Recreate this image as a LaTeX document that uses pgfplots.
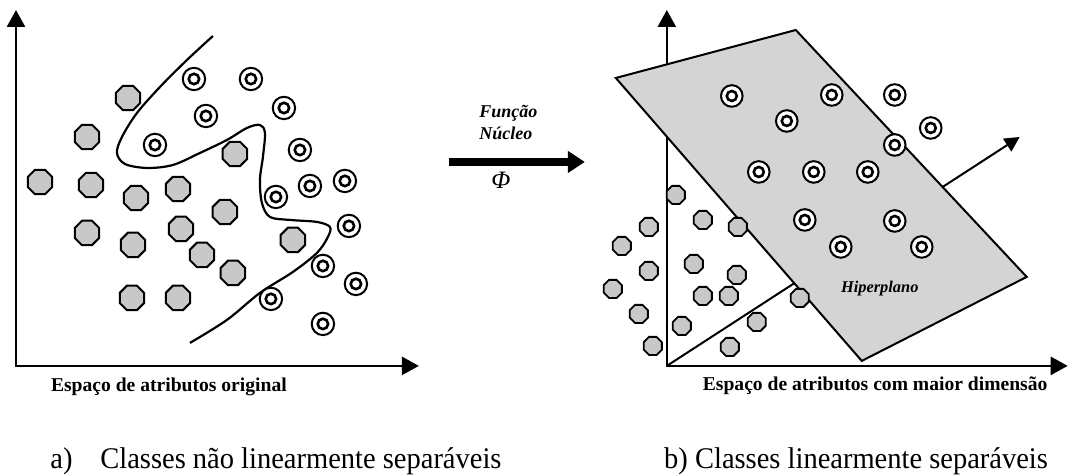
\documentclass[border=0pt]{standalone}
\usepackage{fontspec}
\setmainfont{Liberation Serif}
\usepackage{graphicx}
\usepackage{pgfplots}
\usepackage{pgfplotstable}
\pgfplotsset{compat=1.18}
\usetikzlibrary{arrows.meta}
\definecolor{octgray}{RGB}{200,200,200}
\definecolor{planegray}{RGB}{212,212,212}
\pgfdeclareplotmark{octagon}{%
 \pgfpathmoveto{\pgfpointpolar{22.5}{\pgfplotmarksize}}%
 \pgfpathlineto{\pgfpointpolar{67.5}{\pgfplotmarksize}}%
 \pgfpathlineto{\pgfpointpolar{112.5}{\pgfplotmarksize}}%
 \pgfpathlineto{\pgfpointpolar{157.5}{\pgfplotmarksize}}%
 \pgfpathlineto{\pgfpointpolar{202.5}{\pgfplotmarksize}}%
 \pgfpathlineto{\pgfpointpolar{247.5}{\pgfplotmarksize}}%
 \pgfpathlineto{\pgfpointpolar{292.5}{\pgfplotmarksize}}%
 \pgfpathlineto{\pgfpointpolar{337.5}{\pgfplotmarksize}}%
 \pgfpathclose
 \pgfusepathqfillstroke
}
% left panel: class A (gray octagons)
\pgfplotstableread{
x y
128 98
87 137
40 182
91 185
136 198
178 189
235 154
225 212
87 233
133 245
181 229
202 255
233 273
293 240
132 298
178 298
}\leftoct
% left panel: class B (double circles)
\pgfplotstableread{
x y
194 79
251 79
206 116
284 108
155 145
300 150
276 197
310 186
345 181
349 226
323 266
356 284
271 299
323 324
}\leftcirc
% separating curve
\pgfplotstableread{
x y
213 36
187 60
160 87
137 113
122 137
117 153
125 164
147 168
173 165
200 153
227 140
247 128
260 125
265 133
263 157
260 180
262 203
270 217
290 220
317 222
330 227
328 237
317 253
293 272
260 293
227 320
190 343
}\curve
% right panel: class A
\pgfplotstableread{
x y
676 195
649 227
703 220
738 227
622 246
649 271
694 264
737 275
613 289
703 296
729 296
800 298
639 314
682 326
757 322
653 346
730 347
}\rightoct
% right panel: class B
\pgfplotstableread{
x y
732 96
832 95
895 95
787 121
931 128
895 145
759 172
814 172
868 172
805 220
895 221
841 247
922 247
}\rightcirc
\begin{document}
\begin{tikzpicture}
\begin{axis}[width=534.5pt, height=238pt, scale only axis,
  xmin=0, xmax=1069, ymin=0, ymax=476, y dir=reverse,
  hide axis, clip=false]
\addplot[draw=none] coordinates {(0,0) (1069,476)};
% ---------- left panel ----------
\addplot[line width=1.3pt, {Triangle[length=8.5pt,width=9pt]}-{Triangle[length=8.5pt,width=9pt]}]
  coordinates {(16,10) (16,366) (419,366)};
\addplot[smooth, tension=0.55, line width=1.1pt] table {\curve};
\addplot[only marks, mark=octagon, mark size=6.6pt,
  mark options={fill=octgray, draw=black, line width=1pt}] table {\leftoct};
\addplot[only marks, mark=*, mark size=5.6pt,
  mark options={fill=white, draw=black, line width=1pt}] table {\leftcirc};
\addplot[only marks, mark=o, mark size=2.6pt,
  mark options={draw=black, line width=1.3pt}] table {\leftcirc};
\node[anchor=base west, font=\fontsize{9.8}{11}\selectfont\bfseries]
  at (axis cs:44,392) {Espaço de atributos original};
% ---------- central arrow ----------
\addplot[line width=4pt, -{Triangle[length=8.5pt,width=10.5pt]}]
  coordinates {(449,162) (585,162)};
\node[anchor=base west, inner sep=0pt, font=\fontsize{9}{10}\selectfont\bfseries\itshape]
  at (axis cs:479,118) {Função};
\node[anchor=base west, inner sep=0pt, font=\fontsize{9}{10}\selectfont\bfseries\itshape]
  at (axis cs:479,140) {Núcleo};
\node[anchor=center, inner sep=0pt, font=\fontsize{12.5}{14}\selectfont\itshape]
  at (axis cs:501,180) {Φ};
% ---------- right panel ----------
\addplot[line width=1.3pt, {Triangle[length=8.5pt,width=9pt]}-{Triangle[length=8.5pt,width=9pt]}]
  coordinates {(667,10) (667,366) (1068,366)};
\addplot[line width=1pt, -{Triangle[length=7.5pt,width=7.5pt]}]
  coordinates {(667,366) (1020,137)};
\addplot[only marks, mark=octagon, mark size=4.9pt,
  mark options={fill=octgray, draw=black, line width=0.9pt}] table {\rightoct};
\addplot[fill=planegray, draw=black, line width=1pt]
  coordinates {(616,78) (796,30) (1027,277) (862,361)} -- cycle;
\addplot[only marks, mark=*, mark size=5.4pt,
  mark options={fill=white, draw=black, line width=1pt}] table {\rightcirc};
\addplot[only marks, mark=o, mark size=2.5pt,
  mark options={draw=black, line width=1.3pt}] table {\rightcirc};
\node[anchor=base, font=\fontsize{8.2}{10}\selectfont\bfseries\itshape]
  at (axis cs:880,293) {Hiperplano};
\node[anchor=base west, font=\fontsize{9.8}{11}\selectfont\bfseries]
  at (axis cs:696,391) {Espaço de atributos com maior dimensão};
% ---------- captions ----------
\node[anchor=base west, font=\fontsize{15}{17}\selectfont, inner sep=0pt]
  at (axis cs:50,469) {\scalebox{0.95}[1]{a)}};
\node[anchor=base west, font=\fontsize{15}{17}\selectfont, inner sep=0pt]
  at (axis cs:100,469) {\scalebox{0.95}[1]{Classes não linearmente separáveis}};
\node[anchor=base west, font=\fontsize{15}{17}\selectfont, inner sep=0pt]
  at (axis cs:664,469) {\scalebox{0.95}[1]{b) Classes linearmente separáveis}};
\end{axis}
\end{tikzpicture}
\end{document}
